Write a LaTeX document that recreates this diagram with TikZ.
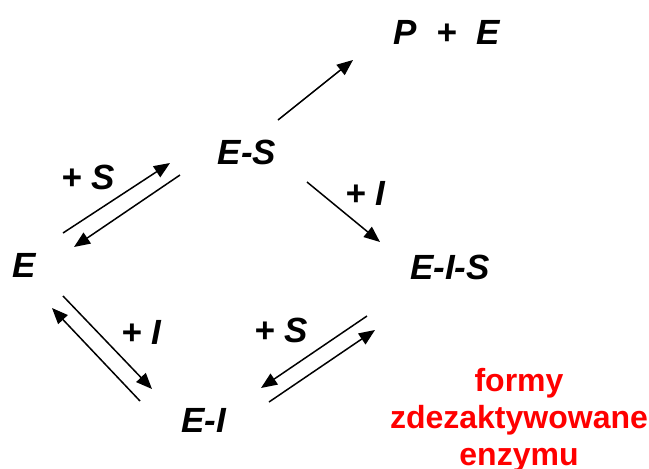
\documentclass[tikz,border=0pt]{standalone}
\usepackage{fontspec}
\setmainfont{Liberation Sans}
\usetikzlibrary{arrows.meta}
\tikzset{
  species/.style={inner sep=0pt,font=\fontsize{17.5}{21}\selectfont\bfseries\itshape},
  rxn/.style={-{Triangle[length=8pt,width=6.5pt]},black,line width=0.75pt},
  note/.style={inner sep=0pt,red,align=center,font=\fontsize{16}{18.5}\selectfont\bfseries},
}

\begin{document}
\begin{tikzpicture}[x=0.5pt,y=-0.5pt]
  \useasboundingbox (0,0) rectangle (649,468);
  % enzyme forms
  \node[species] (PE)  at (447,32)    {P\ \ +\ \ E};
  \node[species] (ES)  at (247,152.5) {E-S};
  \node[species] (E)   at (24,265.5)  {E};
  \node[species] (EIS) at (450,267.5) {E-I-S};
  \node[species] (EI)  at (204,420)   {E-I};
  % reagents
  \node[species] (addSa) at (88,177)    {+ S};
  \node[species] (addIa) at (365,193)   {+ I};
  \node[species] (addIb) at (141.5,332.5) {+ I};
  \node[species] (addSb) at (281.5,330.5) {+ S};
  \node[note, anchor=north] (inact) at (519,368) {formy\\zdezaktywowane\\enzymu};

  \draw[rxn] ([shift={(31,-32.5)}]ES.center) -- ([shift={(-94,28)}]PE.center);
  \draw[rxn] ([shift={(60,29.5)}]ES.center) -- ([shift={(-70,-25.5)}]EIS.center);
  \draw[rxn] ([shift={(39,-32.5)}]E.center) -- ([shift={(-77,10.5)}]ES.center);
  \draw[rxn] ([shift={(-67,22.5)}]ES.center) -- ([shift={(50,-18.5)}]E.center);
  \draw[rxn] ([shift={(39,30.5)}]E.center) -- ([shift={(-52,-31)}]EI.center);
  \draw[rxn] ([shift={(-64,-19)}]EI.center) -- ([shift={(28,42.5)}]E.center);
  \draw[rxn] ([shift={(65,-18)}]EI.center) -- ([shift={(-75,62.5)}]EIS.center);
  \draw[rxn] ([shift={(-83,48.5)}]EIS.center) -- ([shift={(57,-32)}]EI.center);
\end{tikzpicture}
\end{document}
